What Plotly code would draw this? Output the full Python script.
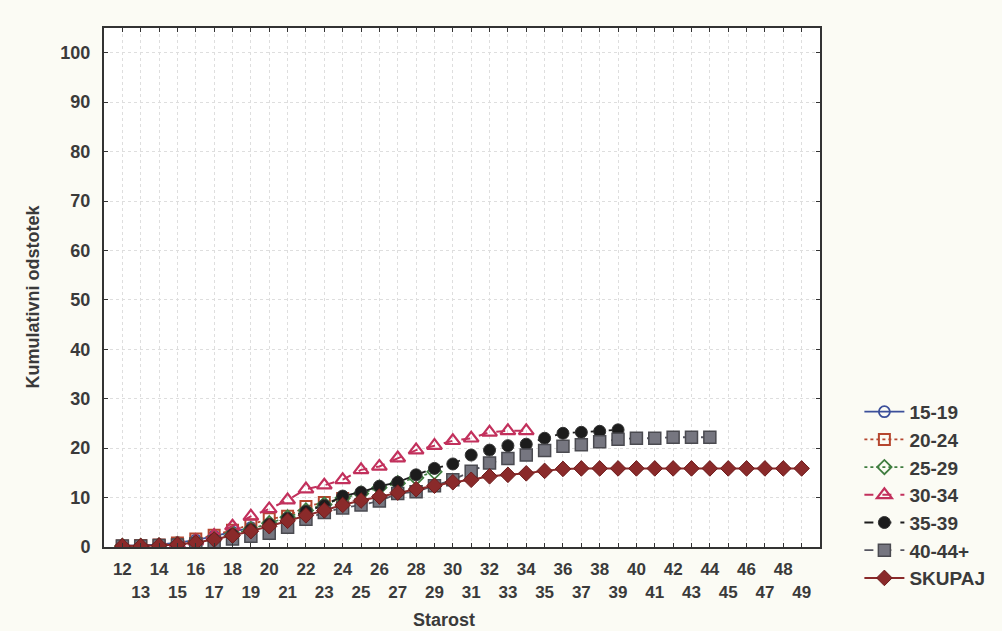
import plotly.graph_objects as go

ages_all = list(range(12, 50))
tick_vals = list(range(12, 50))
tick_text = [str(a) if a % 2 == 0 else "<br>" + str(a) for a in tick_vals]
y_ticks = list(range(0, 101, 10))

s15_19 = [0.2, 0.3, 0.5, 0.9, 1.4, 2.2, 3.0, 3.9]
s20_24 = [0.2, 0.3, 0.4, 0.8, 1.6, 2.4, 3.4, 4.5, 5.7, 6.2, 8.2, 9.0, 9.8]
s25_29 = [0.2, 0.2, 0.3, 0.6, 1.0, 1.7, 2.7, 3.6, 4.8, 6.0, 7.4, 8.6, 9.9, 10.8, 12.0, 12.9, 14.0, 15.2]
s30_34 = [0.2, 0.2, 0.3, 0.6, 1.2, 2.3, 4.2, 6.2, 7.7, 9.5, 11.7, 12.5, 13.6, 15.6, 16.3, 18.0, 19.6,
          20.5, 21.5, 22.0, 23.2, 23.5, 23.5]
s35_39 = [0.2, 0.2, 0.3, 0.5, 0.9, 1.5, 2.5, 3.5, 4.6, 5.8, 7.2, 8.4, 10.3, 11.1, 12.3, 13.1, 14.6,
          15.9, 16.8, 18.6, 19.6, 20.5, 20.8, 22.0, 23.0, 23.2, 23.4, 23.7]
s40_44 = [0.2, 0.2, 0.3, 0.4, 0.6, 1.0, 1.6, 2.2, 2.8, 4.0, 5.6, 7.0, 7.9, 8.5, 9.3, 10.8, 11.2,
          12.4, 13.6, 15.3, 17.0, 17.9, 18.6, 19.5, 20.4, 20.7, 21.3, 21.8, 22.0, 22.0, 22.2, 22.2, 22.2]
skupaj = [0.2, 0.2, 0.3, 0.5, 0.9, 1.5, 2.3, 3.2, 4.2, 5.3, 6.4, 7.4, 8.5, 9.4, 10.2, 11.0, 11.7,
          12.4, 13.1, 13.6, 14.3, 14.6, 14.9, 15.4, 15.8, 15.9, 15.9, 15.9, 15.9, 15.9, 15.9, 15.9,
          15.9, 15.9, 15.9, 15.9, 15.9, 15.9]

series = [
    ("15-19", s15_19, dict(symbol="circle-open", color="#3b4f9a", size=11, line=dict(width=1.8)),
     dict(color="#3b4f9a", width=1.8, dash="solid")),
    ("20-24", s20_24, dict(symbol="square-open", color="#b5462f", size=11, line=dict(width=2)),
     dict(color="#b5462f", width=1.8, dash="dot")),
    ("25-29", s25_29, dict(symbol="diamond-open", color="#3f7d3f", size=11, line=dict(width=1.8)),
     dict(color="#3f7d3f", width=1.6, dash="dot")),
    ("30-34", s30_34, dict(symbol="triangle-up-open", color="#c2305c", size=13, line=dict(width=2.2)),
     dict(color="#c2305c", width=2, dash="dash")),
    ("35-39", s35_39, dict(symbol="circle", color="#1c1c1c", size=12, line=dict(width=1, color="#333")),
     dict(color="#1c1c1c", width=1.8, dash="dash")),
    ("40-44+", s40_44, dict(symbol="square", color="#767680", size=12, line=dict(width=1.5, color="#4a4a50")),
     dict(color="#555560", width=1.8, dash="dash")),
    ("SKUPAJ", skupaj, dict(symbol="diamond", color="#8a2a2a", size=12, line=dict(width=1, color="#6e1c1c")),
     dict(color="#8a2a2a", width=2, dash="solid")),
]

fig = go.Figure()
for name, vals, mk, ln in series:
    fig.add_trace(go.Scatter(
        x=ages_all[:len(vals)], y=vals, name=name, mode="lines+markers",
        marker=mk, line=ln, legendgroup=name,
    ))

FAM = "Liberation Sans, Arial, sans-serif"
TXT = "#3a3a3a"

fig.update_layout(
    width=1002, height=631,
    margin=dict(l=104, r=176, t=28, b=84),
    paper_bgcolor="#fbfbf4",
    plot_bgcolor="#ffffff",
    font=dict(family=FAM, size=16, color=TXT, weight="bold"),
    showlegend=True,
    legend=dict(
        x=1.055, xanchor="left", y=0.297, yanchor="top",
        font=dict(family=FAM, size=19, color=TXT, weight="bold"),
        bgcolor="rgba(0,0,0,0)", tracegroupgap=0, itemwidth=40,
    ),
    xaxis=dict(
        range=[11, 50], tickmode="array", tickvals=tick_vals, ticktext=tick_text,
        ticks="inside", ticklen=4, tickcolor="#333", mirror="ticks",
        showline=True, linecolor="#333", linewidth=2,
        showgrid=True, gridcolor="#dedede", griddash="dot", gridwidth=1,
        zeroline=False, tickangle=0, automargin=False, ticklabelstandoff=6,
        tickfont=dict(family=FAM, size=17, color=TXT, weight="bold"),
    ),
    yaxis=dict(
        range=[0, 105], tickmode="array", tickvals=y_ticks,
        ticks="inside", ticklen=4, tickcolor="#333", mirror="ticks",
        showline=True, linecolor="#333", linewidth=2,
        showgrid=True, gridcolor="#dedede", griddash="dot", gridwidth=1,
        zeroline=False, automargin=False, ticklabelstandoff=8,
        tickfont=dict(family=FAM, size=18, color=TXT, weight="bold"),
    ),
    annotations=[
        dict(text="Starost", xref="paper", yref="paper", x=0.4747, y=-0.1407,
             xanchor="center", yanchor="middle", showarrow=False,
             font=dict(family=FAM, size=18, color=TXT, weight="bold")),
        dict(text="Kumulativni odstotek", xref="paper", yref="paper", x=-0.0997, y=0.4817,
             xanchor="center", yanchor="middle", showarrow=False, textangle=-90,
             font=dict(family=FAM, size=18, color=TXT, weight="bold")),
    ],
)

fig.write_html("out.html", config={"displayModeBar": False},
               post_script="document.body.style.margin='0px';")
